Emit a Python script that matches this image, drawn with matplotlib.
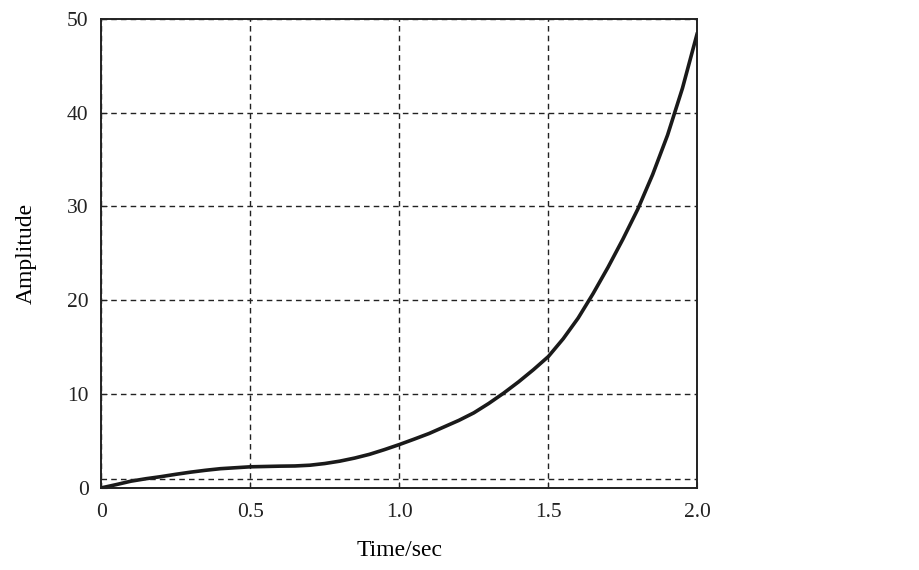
import numpy as np
import matplotlib.pyplot as plt

plt.rcParams['font.family'] = ['Liberation Serif', 'DejaVu Serif']

# step response
t = [0.0, 0.05, 0.1, 0.15, 0.2, 0.25, 0.3, 0.35, 0.4, 0.5, 0.6, 0.65, 0.7, 0.75,
     0.8, 0.85, 0.9, 0.95, 1.0, 1.05, 1.1, 1.15, 1.2, 1.25, 1.3, 1.35, 1.4, 1.45,
     1.5, 1.55, 1.6, 1.65, 1.7, 1.75, 1.8, 1.85, 1.9, 1.95, 2.0]
amp = [0.0, 0.35, 0.72, 0.98, 1.2, 1.45, 1.68, 1.88, 2.05, 2.25, 2.32, 2.34, 2.42, 2.6,
       2.85, 3.18, 3.58, 4.08, 4.62, 5.2, 5.8, 6.5, 7.2, 8.0, 9.0, 10.1, 11.3, 12.6,
       14.0, 15.9, 18.1, 20.7, 23.5, 26.5, 29.7, 33.4, 37.6, 42.6, 48.5]
ref_level = 1.0

xticks = [0, 0.5, 1.0, 1.5, 2.0]
xticklabels = ['0', '0.5', '1.0', '1.5', '2.0']
yticks = [0, 10, 20, 30, 40, 50]

fig = plt.figure(figsize=(9.2, 5.7), dpi=100)
ax = fig.add_axes([0.11, 0.144, 0.648, 0.823])
ax.plot(t, amp, color='#1a1a1a', linewidth=2.6, solid_capstyle='round')
ax.axhline(ref_level, color='#222222', linestyle=(0, (4, 3)), linewidth=1.0)

ax.set_xlim(0, 2.0)
ax.set_ylim(0, 50)
ax.set_xticks(xticks)
ax.set_xticklabels(xticklabels)
ax.set_yticks(yticks)
ax.grid(True, color='#222222', linestyle=(0, (4, 3)), linewidth=1.0)
ax.tick_params(direction='in', length=4, labelsize=15.5, colors='#222222')
ax.tick_params(axis='x', pad=11)
ax.tick_params(axis='y', pad=9)
for s in ax.spines.values():
    s.set_linewidth(1.4)
    s.set_color('#222222')

ax.set_xlabel('Time/sec', fontsize=17, labelpad=13)
ax.set_ylabel('Amplitude', fontsize=17, labelpad=22)

plt.savefig('out.png', dpi=100)
